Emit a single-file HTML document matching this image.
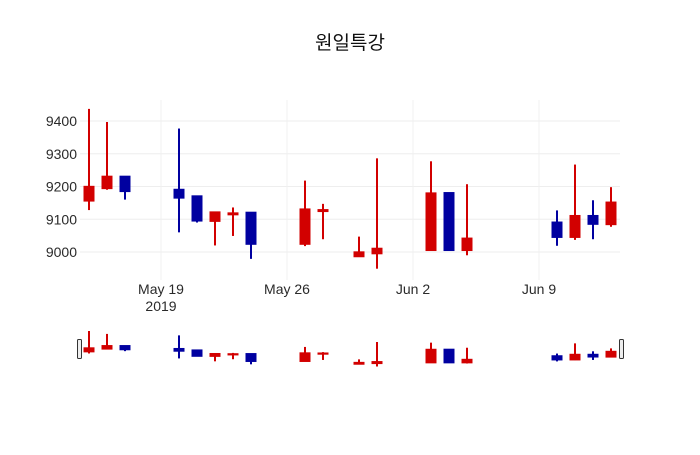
<!DOCTYPE html>
<html><head><meta charset="utf-8">
<style>
body{margin:0;background:#fff;}
svg text{font-family:"Liberation Sans","Noto Sans CJK KR",sans-serif;fill:#2a2a2a;}
</style></head>
<body>
<svg id="chart" width="700" height="450" xmlns="http://www.w3.org/2000/svg">
<rect width="700" height="450" fill="#fff"/>
<text x="350" y="49" text-anchor="middle" font-size="19" style="fill:#111">원일특강</text>
<g id="grid"></g>
<g id="main"></g>
<g id="xlabels"></g>
<g id="ylabels"></g>
<g id="slider"></g>
</svg>
<script>
const dates=["2019-05-15","2019-05-16","2019-05-17","2019-05-20","2019-05-21","2019-05-22","2019-05-23","2019-05-24","2019-05-27","2019-05-28","2019-05-30","2019-05-31","2019-06-03","2019-06-04","2019-06-05","2019-06-10","2019-06-11","2019-06-12","2019-06-13"];
const opens=[9157,9195,9230,9190,9170,9095,9115,9120,9025,9125,8987,8996,9006,9180,9006,9090,9046,9110,9085];
const highs=[9437,9397,9230,9377,9171,9121,9136,9120,9218,9147,9047,9286,9277,9180,9207,9127,9267,9158,9198];
const lows=[9128,9190,9160,9060,9090,9020,9049,8979,9018,9039,8985,8949,9006,9006,8990,9019,9037,9039,9077];
const closes=[9199,9230,9186,9166,9096,9121,9118,9025,9130,9128,8999,9010,9179,9006,9041,9046,9110,9086,9151];
const yTicks=[9000,9100,9200,9300,9400];
const xTicks=["2019-05-19","2019-05-26","2019-06-02","2019-06-09"];
const xTickLabels=["May 19","May 26","Jun 2","Jun 9"];

const NS="http://www.w3.org/2000/svg";
const x0=Date.parse("2019-05-14T12:00:00Z"), x1=Date.parse("2019-06-13T12:00:00Z");
const L=80,R=620;
function xs(d){return L+(Date.parse(d+"T00:00:00Z")-x0)/(x1-x0)*(R-L);}
function ys(v){return 252-(v-9000)*0.3275;}
const smin=Math.min(...lows), smax=Math.max(...highs);
function yss(v){return 366.5-(v-smin)/(smax-smin)*35.5;}
function mk(tag,attrs,parent){const e=document.createElementNS(NS,tag);for(const k in attrs)e.setAttribute(k,attrs[k]);parent.appendChild(e);return e;}
const grid=document.getElementById('grid'),main=document.getElementById('main'),xl=document.getElementById('xlabels'),yl=document.getElementById('ylabels'),sl=document.getElementById('slider');
yTicks.forEach(v=>{
  const l=mk('line',{x1:L,x2:R,y1:ys(v),y2:ys(v),stroke:'#eee','stroke-width':1},grid);
  
  
  const t=mk('text',{x:77,y:ys(v)+5,'text-anchor':'end','font-size':14},yl);
  t.textContent=v;
  
  
});
xTicks.forEach((d,i)=>{
  const x=xs(d);
  const l=mk('line',{x1:x,x2:x,y1:100,y2:280,stroke:'#f0f0f0','stroke-width':1},grid);
  
  
  const t=mk('text',{x:x,y:294,'text-anchor':'middle','font-size':14},xl);
  t.textContent=xTickLabels[i];
  
  
});
const yr=mk('text',{x:xs(xTicks[0]),y:311,'text-anchor':'middle','font-size':14},xl);
yr.textContent="2019";


function candle(parent,i,yf,name){
  const x=xs(dates[i]);const up=closes[i]>=opens[i];const c=up?'#d20000':'#0000a0';
  const g=mk('g',{},parent);
  
  
  mk('line',{x1:x,x2:x,y1:yf(highs[i]),y2:yf(lows[i]),stroke:c,'stroke-width':2},g);
  const t=yf(Math.max(opens[i],closes[i])),b=yf(Math.min(opens[i],closes[i]));
  mk('rect',{x:x-5.5,y:t-1,width:11,height:Math.max(b-t,0)+2,fill:c},g);
}
dates.forEach((d,i)=>{candle(main,i,ys,'candle');candle(sl,i,yss,'slider-candle');});
[[L-2],[R]].forEach((p,k)=>{
  const h=mk('rect',{x:p[0]-0.5,y:339.5,width:4,height:19,rx:1,fill:'#eee',stroke:'#333','stroke-width':1},sl);
  
  
});
</script>
</body></html>
